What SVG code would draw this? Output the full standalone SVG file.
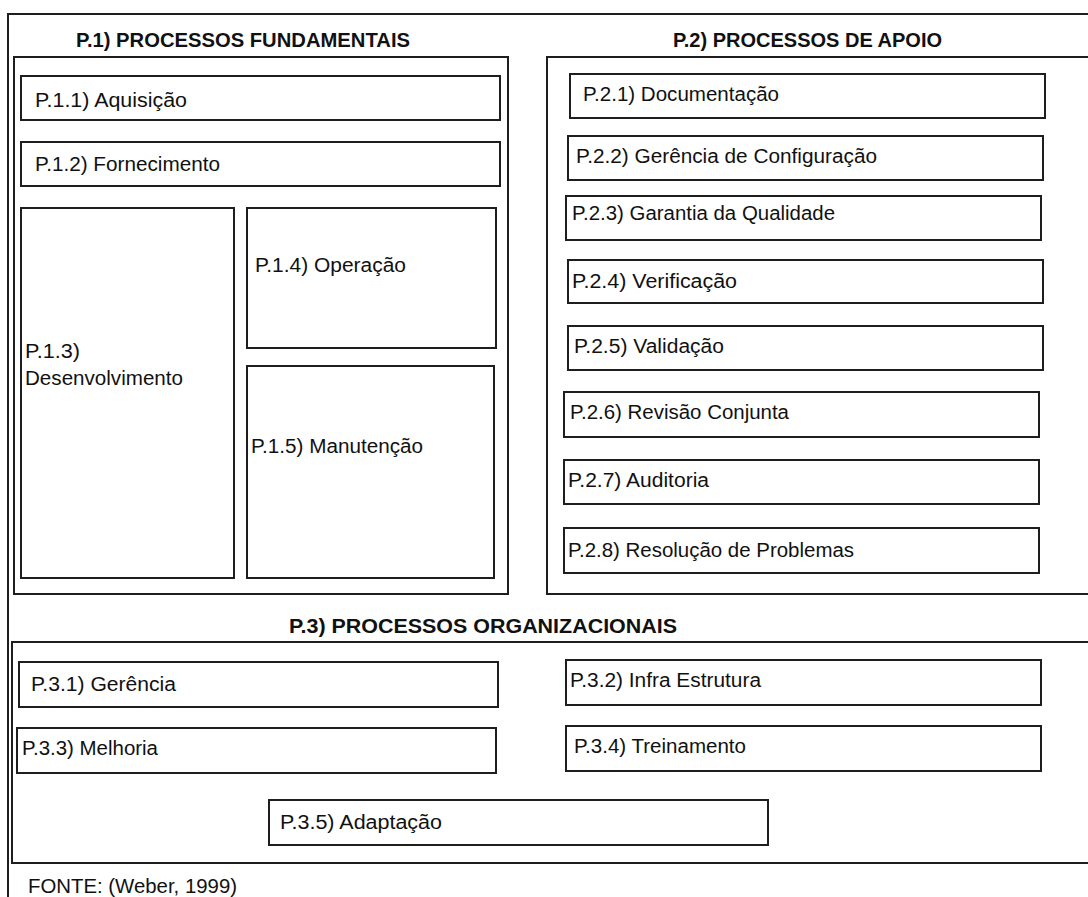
<svg xmlns="http://www.w3.org/2000/svg" width="1088" height="897" viewBox="0 0 1088 897">
<style>
.box{fill:none;stroke:#1e1e1e;stroke-width:2}
.t{font-family:"Liberation Sans",Arial,sans-serif;font-size:20px;fill:#111}
.h{font-family:"Liberation Sans",Arial,sans-serif;font-size:20px;font-weight:bold;fill:#111}
</style>
<rect x="0" y="0" width="1088" height="897" fill="#fff"/>
<g id="frame"><rect class="box" x="8" y="14" width="1100" height="900"/></g>

<g id="p1">
<rect class="box" x="14" y="57" width="494" height="537"/>
<text class="h" x="76" y="47" textLength="334" lengthAdjust="spacingAndGlyphs">P.1) PROCESSOS FUNDAMENTAIS</text>
</g>
<g id="p1-1"><rect class="box" x="21" y="76" width="479" height="44"/><text class="t" x="35" y="107" textLength="152" lengthAdjust="spacingAndGlyphs">P.1.1) Aquisição</text></g>
<g id="p1-2"><rect class="box" x="21" y="142" width="479" height="44"/><text class="t" x="35" y="171" textLength="185" lengthAdjust="spacingAndGlyphs">P.1.2) Fornecimento</text></g>
<g id="p1-3"><rect class="box" x="21" y="208" width="213" height="370"/><text class="t" x="25" y="358" textLength="55" lengthAdjust="spacingAndGlyphs">P.1.3)</text><text class="t" x="25" y="385" textLength="158" lengthAdjust="spacingAndGlyphs">Desenvolvimento</text></g>
<g id="p1-4"><rect class="box" x="247" y="208" width="249" height="140"/><text class="t" x="255" y="272" textLength="151" lengthAdjust="spacingAndGlyphs">P.1.4) Operação</text></g>
<g id="p1-5"><rect class="box" x="247" y="366" width="247" height="212"/><text class="t" x="251" y="453" textLength="172" lengthAdjust="spacingAndGlyphs">P.1.5) Manutenção</text></g>

<g id="p2">
<rect class="box" x="547" y="57" width="600" height="537"/>
<text class="h" x="673" y="47" textLength="269" lengthAdjust="spacingAndGlyphs">P.2) PROCESSOS DE APOIO</text>
</g>
<g id="p2-1"><rect class="box" x="570" y="74" width="475" height="44"/><text class="t" x="583" y="101" textLength="196" lengthAdjust="spacingAndGlyphs">P.2.1) Documentação</text></g>
<g id="p2-2"><rect class="box" x="568" y="136" width="475" height="44"/><text class="t" x="576" y="163" textLength="301" lengthAdjust="spacingAndGlyphs">P.2.2) Gerência de Configuração</text></g>
<g id="p2-3"><rect class="box" x="566" y="196" width="475" height="44"/><text class="t" x="572" y="220" textLength="263" lengthAdjust="spacingAndGlyphs">P.2.3) Garantia da Qualidade</text></g>
<g id="p2-4"><rect class="box" x="568" y="260" width="475" height="43"/><text class="t" x="572" y="288" textLength="165" lengthAdjust="spacingAndGlyphs">P.2.4) Verificação</text></g>
<g id="p2-5"><rect class="box" x="568" y="326" width="475" height="44"/><text class="t" x="574" y="353" textLength="150" lengthAdjust="spacingAndGlyphs">P.2.5) Validação</text></g>
<g id="p2-6"><rect class="box" x="564" y="392" width="475" height="45"/><text class="t" x="570" y="419" textLength="219" lengthAdjust="spacingAndGlyphs">P.2.6) Revisão Conjunta</text></g>
<g id="p2-7"><rect class="box" x="564" y="460" width="475" height="44"/><text class="t" x="568" y="487" textLength="141" lengthAdjust="spacingAndGlyphs">P.2.7) Auditoria</text></g>
<g id="p2-8"><rect class="box" x="564" y="528" width="475" height="45"/><text class="t" x="568" y="557" textLength="286" lengthAdjust="spacingAndGlyphs">P.2.8) Resolução de Problemas</text></g>

<g id="p3">
<rect class="box" x="12" y="642" width="1100" height="221"/>
<text class="h" x="289" y="633" textLength="388" lengthAdjust="spacingAndGlyphs">P.3) PROCESSOS ORGANIZACIONAIS</text>
</g>
<g id="p3-1"><rect class="box" x="19" y="662" width="479" height="45"/><text class="t" x="31" y="691" textLength="145" lengthAdjust="spacingAndGlyphs">P.3.1) Gerência</text></g>
<g id="p3-2"><rect class="box" x="566" y="660" width="475" height="45"/><text class="t" x="570" y="687" textLength="191" lengthAdjust="spacingAndGlyphs">P.3.2) Infra Estrutura</text></g>
<g id="p3-3"><rect class="box" x="17" y="728" width="479" height="45"/><text class="t" x="22" y="755" textLength="136" lengthAdjust="spacingAndGlyphs">P.3.3) Melhoria</text></g>
<g id="p3-4"><rect class="box" x="566" y="726" width="475" height="45"/><text class="t" x="574" y="753" textLength="172" lengthAdjust="spacingAndGlyphs">P.3.4) Treinamento</text></g>
<g id="p3-5"><rect class="box" x="269" y="800" width="499" height="45"/><text class="t" x="280" y="829" textLength="162" lengthAdjust="spacingAndGlyphs">P.3.5) Adaptação</text></g>

<g id="fonte"><text class="t" x="28" y="893" textLength="209" lengthAdjust="spacingAndGlyphs">FONTE: (Weber, 1999)</text></g>
</svg>
